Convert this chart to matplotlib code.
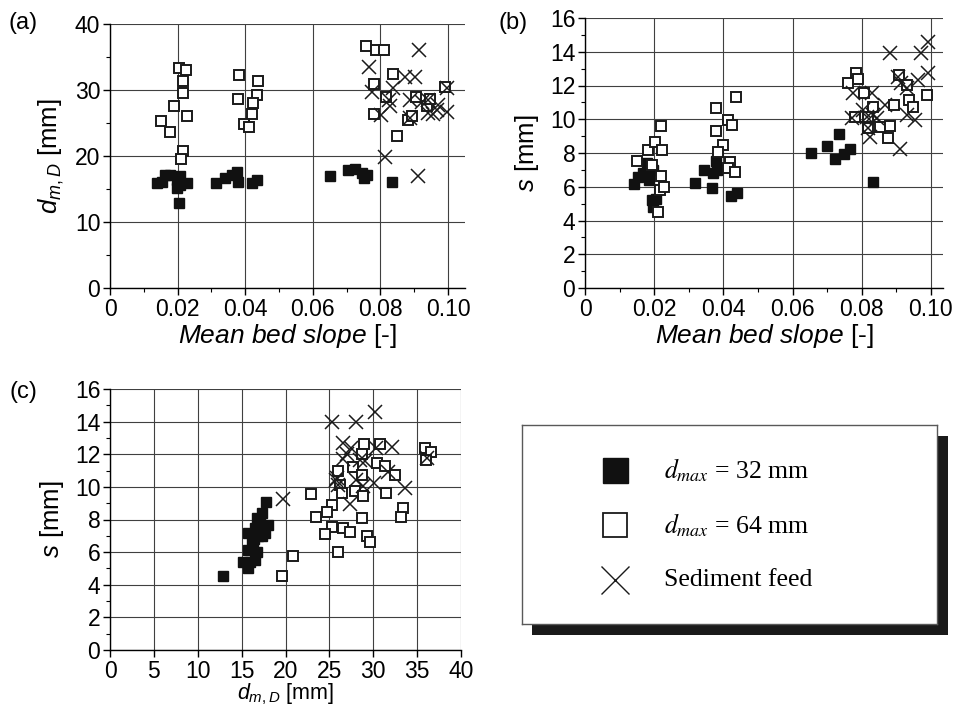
import matplotlib
matplotlib.use("Agg")
import matplotlib.pyplot as plt
from matplotlib.patches import Rectangle
from matplotlib.ticker import MultipleLocator, FixedLocator

plt.rcParams['font.family'] = ['Liberation Sans', 'DejaVu Sans']
plt.rcParams['mathtext.fontset'] = 'custom'
plt.rcParams['mathtext.rm'] = 'Liberation Sans'
plt.rcParams['mathtext.it'] = 'Liberation Sans:italic'
plt.rcParams['font.size'] = 16.5

# (a) mean bed slope vs d_m,D
a_filled_x = [0.0138, 0.0153, 0.0163, 0.0178, 0.0197, 0.0207, 0.0197, 0.0227, 0.0207, 0.0205,
              0.0314, 0.0340, 0.0360, 0.0377, 0.0380, 0.0419, 0.0434,
              0.0651, 0.0705, 0.0725, 0.0744, 0.0759, 0.0750, 0.0833]
a_filled_y = [15.9, 16.1, 17.1, 17.1, 16.4, 15.6, 15.1, 15.9, 16.9, 12.9,
              15.9, 16.6, 17.1, 17.6, 16.1, 15.9, 16.3,
              16.9, 17.9, 18.1, 17.4, 17.1, 16.6, 16.1]
a_open_x = [0.0204, 0.0224, 0.0217, 0.0217, 0.0189, 0.0150, 0.0178, 0.0229, 0.0215, 0.0210,
            0.0381, 0.0437, 0.0434, 0.0378, 0.0424, 0.0419, 0.0395, 0.0412,
            0.0757, 0.0787, 0.0809, 0.0836, 0.0781, 0.0817, 0.0781, 0.0850, 0.0880,
            0.0892, 0.0905, 0.0937, 0.0947, 0.0991]
a_open_y = [33.4, 33.1, 31.4, 29.6, 27.5, 25.3, 23.6, 26.0, 20.8, 19.5,
            32.3, 31.3, 29.2, 28.6, 28.0, 26.4, 24.8, 24.4,
            36.6, 36.0, 36.0, 32.4, 30.9, 28.9, 26.4, 23.0, 25.4,
            26.0, 29.0, 27.6, 28.6, 30.4]
a_cross_x = [0.0914, 0.0766, 0.0775, 0.0838, 0.0873, 0.0902, 0.0824, 0.0828, 0.0802, 0.0888,
             0.0922, 0.0942, 0.0955, 0.0966, 0.0996, 0.0996, 0.0971, 0.0888, 0.0942,
             0.0814, 0.0910]
a_cross_y = [36.1, 33.5, 29.7, 30.3, 32.0, 32.0, 28.5, 27.5, 26.2, 25.7,
             28.2, 26.5, 26.4, 27.0, 26.7, 30.3, 27.7, 28.5, 28.5,
             19.8, 17.0]

# (b) mean bed slope vs s
b_filled_x = [0.0142, 0.0154, 0.0169, 0.0178, 0.0186, 0.0197, 0.0193, 0.0197, 0.0205,
              0.0318, 0.0344, 0.0368, 0.0371, 0.0379, 0.0382, 0.0421, 0.0438,
              0.0653, 0.0700, 0.0723, 0.0735, 0.0750, 0.0765, 0.0833]
b_filled_y = [6.16, 6.6, 6.8, 7.4, 6.4, 7.0, 5.2, 4.8, 5.3,
              6.24, 7.0, 5.9, 6.8, 7.5, 7.0, 5.45, 5.65,
              7.98, 8.44, 7.62, 9.1, 7.92, 8.25, 6.3]
b_open_x = [0.0151, 0.0181, 0.0202, 0.0193, 0.0222, 0.0220, 0.0219, 0.0217, 0.0228, 0.0212,
            0.0380, 0.0414, 0.0426, 0.0436, 0.0380, 0.0398, 0.0385, 0.0419, 0.0414, 0.0433,
            0.0761, 0.0783, 0.0788, 0.0807, 0.0780, 0.0819, 0.0819, 0.0833, 0.0853,
            0.0883, 0.0877, 0.0893, 0.0908, 0.0930, 0.0937, 0.0949, 0.0988]
b_open_y = [7.5, 8.18, 8.67, 7.29, 8.18, 9.6, 6.65, 5.8, 6.0, 4.5,
            10.65, 9.96, 9.66, 11.3, 9.3, 8.5, 8.08, 7.49, 7.09, 6.9,
            12.13, 12.73, 12.37, 11.54, 10.12, 10.16, 9.47, 10.75, 9.53,
            9.6, 8.87, 10.85, 12.63, 12.03, 11.14, 10.75, 11.44]
b_cross_x = [0.0883, 0.0970, 0.0992, 0.0992, 0.0963, 0.0906, 0.0915, 0.0930, 0.0776, 0.0829,
             0.0804, 0.0867, 0.0833, 0.0771, 0.0814, 0.0843, 0.0930, 0.0954, 0.0819, 0.0824,
             0.0912]
b_cross_y = [13.95, 13.95, 14.55, 12.73, 12.33, 12.53, 12.13, 11.84, 11.54, 11.54,
             10.55, 10.85, 10.25, 10.06, 10.16, 10.06, 10.25, 9.96, 9.47, 8.97,
             8.22]

# (c) d_m,D vs s
c_filled_x = [12.83, 17.78, 17.28, 16.7, 18.0, 17.1, 16.5, 17.66, 15.76, 16.9, 16.15, 16.3,
              15.76, 16.7, 15.18, 15.95, 16.5, 15.76, 16.9, 16.4, 17.3]
c_filled_y = [4.56, 9.1, 8.39, 8.08, 7.67, 7.78, 7.47, 7.16, 7.16, 6.96, 6.55, 6.34,
              6.14, 6.03, 5.42, 5.42, 5.52, 5.01, 7.6, 6.8, 7.0]
c_open_x = [28.9, 30.77, 28.7, 27.7, 30.4, 31.3, 32.5, 26.0, 26.2, 26.4, 27.9, 28.87, 28.68,
            31.4, 22.9, 25.3, 24.76, 23.5, 25.3, 26.5, 27.35, 24.5, 28.68, 29.25, 29.6, 26.0,
            33.35, 33.2, 35.9, 36.6, 36.0, 20.8, 19.55]
c_open_y = [12.65, 12.65, 12.03, 11.21, 11.46, 11.31, 10.74, 10.95, 10.13, 9.62, 9.72, 9.41, 10.74,
            9.62, 9.58, 8.9, 8.45, 8.18, 7.57, 7.47, 7.26, 7.12, 8.08, 6.96, 6.65, 6.03,
            8.7, 8.18, 12.38, 12.11, 11.62, 5.77, 4.54]
c_cross_x = [25.35, 28.0, 30.2, 19.75, 26.6, 27.5, 26.96, 26.5, 28.5, 29.1, 30.3, 32.1, 31.7,
             33.6, 36.1, 25.9, 26.0, 27.4, 28.0, 28.8, 30.1, 25.8]
c_cross_y = [14.0, 13.95, 14.6, 9.27, 12.7, 12.4, 12.03, 11.7, 11.66, 11.6, 12.4, 12.42, 10.9,
             9.96, 11.77, 10.54, 10.1, 8.98, 10.43, 10.03, 10.23, 10.4]

slope_ticks = [0, 0.02, 0.04, 0.06, 0.08, 0.10]
slope_labels = ["0", "0.02", "0.04", "0.06", "0.08", "0.10"]

legend_labels = [r"$d_{max}$ = 32 mm", r"$d_{max}$ = 64 mm", "Sediment feed"]


def style_axes(ax):
    for side in ["top", "right"]:
        ax.spines[side].set_visible(False)
    ax.spines["left"].set_linewidth(1.0)
    ax.spines["bottom"].set_linewidth(1.0)
    ax.grid(True, which="major", color="0.25", linewidth=0.8)
    ax.set_axisbelow(True)
    ax.tick_params(which="major", length=5, width=1, direction="out", pad=2)
    ax.tick_params(which="minor", length=3, width=0.8, direction="out")


def draw_points(ax, fx, fy, ox, oy, cx, cy):
    ax.plot(fx, fy, "s", ms=7.4, mfc="#111111", mec="#111111", mew=1.0, ls="none", zorder=3)
    ax.plot(ox, oy, "s", ms=7.0, mfc="white", mec="#1a1a1a", mew=1.4, ls="none", zorder=4)
    ax.plot(cx, cy, "x", ms=9.5, mec="#1a1a1a", mew=1.1, ls="none", zorder=5)


fig = plt.figure(figsize=(9.55, 7.06), dpi=100)

# panel (a)
ax_a = fig.add_axes([110 / 955, 1 - 288 / 706, 355 / 955, 264 / 706])
draw_points(ax_a, a_filled_x, a_filled_y, a_open_x, a_open_y, a_cross_x, a_cross_y)
ax_a.set_xlim(0, 0.105)
ax_a.set_ylim(0, 40)
ax_a.xaxis.set_major_locator(FixedLocator(slope_ticks))
ax_a.set_xticklabels(slope_labels)
ax_a.xaxis.set_minor_locator(MultipleLocator(0.01))
ax_a.yaxis.set_major_locator(MultipleLocator(10))
ax_a.yaxis.set_minor_locator(MultipleLocator(5))
style_axes(ax_a)
ax_a.set_xlabel(r"$Mean\ bed\ slope$ [-]", labelpad=1, fontsize=19)
ax_a.set_ylabel(r"$d_{m,D}$ [mm]", labelpad=6, fontsize=18.5)

# panel (b)
ax_b = fig.add_axes([585 / 955, 1 - 288 / 706, 358 / 955, 270 / 706])
draw_points(ax_b, b_filled_x, b_filled_y, b_open_x, b_open_y, b_cross_x, b_cross_y)
ax_b.set_xlim(0, 0.1035)
ax_b.set_ylim(0, 16)
ax_b.xaxis.set_major_locator(FixedLocator(slope_ticks))
ax_b.set_xticklabels(slope_labels)
ax_b.xaxis.set_minor_locator(MultipleLocator(0.01))
ax_b.yaxis.set_major_locator(MultipleLocator(2))
ax_b.yaxis.set_minor_locator(MultipleLocator(1))
style_axes(ax_b)
ax_b.set_xlabel(r"$Mean\ bed\ slope$ [-]", labelpad=1, fontsize=19)
ax_b.set_ylabel(r"$s$ [mm]", labelpad=6, fontsize=18.5)

# panel (c)
ax_c = fig.add_axes([110 / 955, 1 - 650 / 706, 351 / 955, 261 / 706])
draw_points(ax_c, c_filled_x, c_filled_y, c_open_x, c_open_y, c_cross_x, c_cross_y)
ax_c.set_xlim(0, 40)
ax_c.set_ylim(0, 16)
ax_c.xaxis.set_major_locator(MultipleLocator(5))
ax_c.yaxis.set_major_locator(MultipleLocator(2))
ax_c.yaxis.set_minor_locator(MultipleLocator(1))
style_axes(ax_c)
ax_c.set_xlabel(r"$d_{m,D}$ [mm]", labelpad=-1, fontsize=15.5)
ax_c.set_ylabel(r"$s$ [mm]", labelpad=6, fontsize=18.5)

fig.text(8 / 955, 1 - 23 / 706, "(a)", va="center", ha="left", fontsize=17)
fig.text(498 / 955, 1 - 23 / 706, "(b)", va="center", ha="left", fontsize=17)
fig.text(9 / 955, 1 - 392 / 706, "(c)", va="center", ha="left", fontsize=17)

# legend box with solid shadow
shadow = Rectangle((532 / 955, 1 - 635 / 706), 416 / 955, 199 / 706,
                   transform=fig.transFigure, facecolor="#1a1a1a", edgecolor="none", zorder=1)
fig.add_artist(shadow)
lax = fig.add_axes([522 / 955, 1 - 624 / 706, 415 / 955, 199 / 706])
lax.set_zorder(2)
lax.set_xlim(0, 1)
lax.set_ylim(0, 1)
lax.set_xticks([])
lax.set_yticks([])
for sp in lax.spines.values():
    sp.set_color("0.35")
    sp.set_linewidth(1.0)
rows = [0.774, 0.497, 0.221]
lax.plot(0.224, rows[0], "s", ms=18, mfc="#111111", mec="#111111")
lax.plot(0.224, rows[1], "s", ms=17, mfc="white", mec="#1a1a1a", mew=1.3)
lax.plot(0.224, rows[2], "x", ms=20, mec="#1a1a1a", mew=1.0)
for yy, lab in zip(rows, legend_labels):
    lax.text(0.342, yy, lab, va="center", ha="left", fontsize=18.5,
             family="Liberation Serif", math_fontfamily="stix")

fig.savefig("out.png", dpi=100)
